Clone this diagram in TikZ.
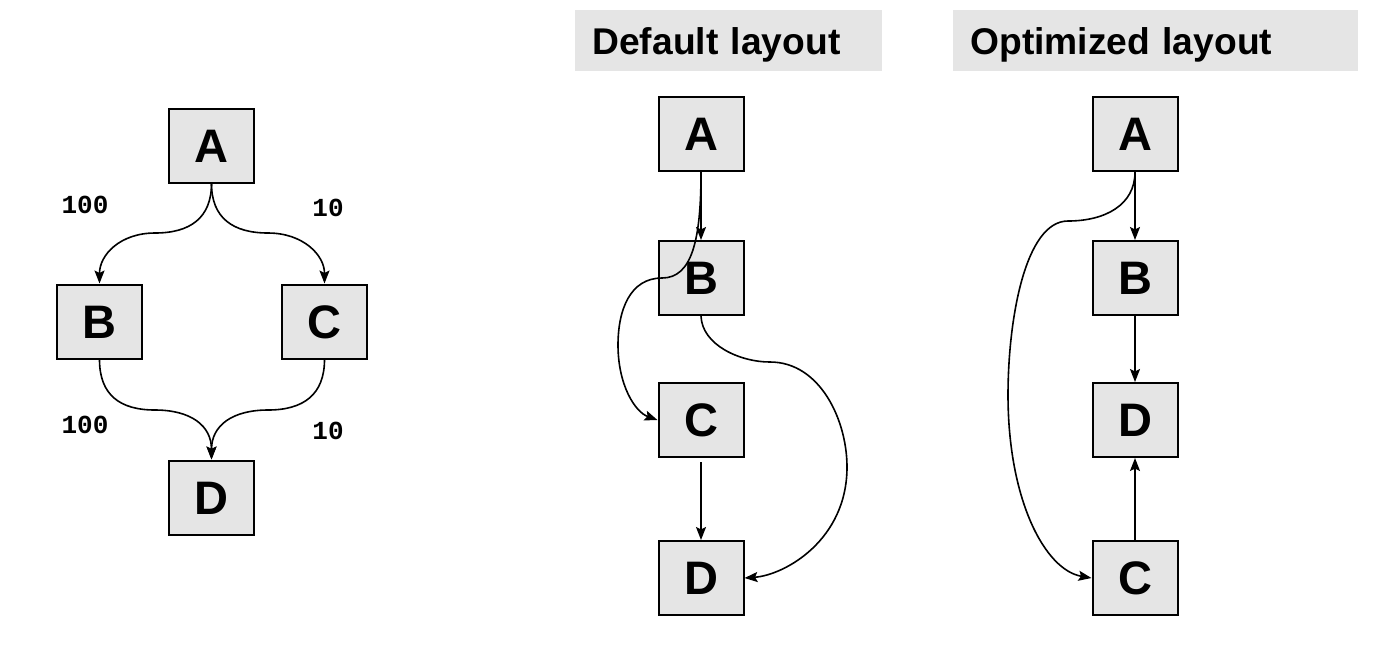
\documentclass[tikz,border=0pt]{standalone}
\usepackage{fontspec}
\setmainfont{Liberation Sans}
\newfontfamily\wtfont{Liberation Mono}
\usetikzlibrary{arrows.meta}

\begin{document}
\begin{tikzpicture}[x=0.5pt, y=-0.5pt,
        blk/.style={draw, line width=1pt, fill=black!10, minimum width=42.5pt, minimum height=37pt,
            inner sep=0pt, text height=16.8pt, text depth=0pt, font=\fontsize{23.5}{23.5}\selectfont\bfseries},
        ttl/.style={fill=black!10, anchor=north west, minimum height=30.5pt, inner xsep=8.5pt, inner ysep=0pt,
            align=left, text height=13.3pt, text depth=0pt, font=\fontsize{18.6}{18.6}\selectfont\bfseries},
        wt/.style={font=\wtfont\fontsize{13}{13}\selectfont\bfseries},
        arc/.style={line width=0.8pt, -{Stealth[length=6.5pt, width=5pt, inset=1.2pt]}}]
        \useasboundingbox (0, 0) rectangle (1380, 650);

        % weighted graph
        \node[blk] (a1) at (211.5, 145.5) {A};
        \node[blk] (b1) at (99.5, 321.5) {B};
        \node[blk] (c1) at (324.5, 321.5) {C};
        \node[blk] (d1) at (211.5, 497.5) {D};

        \draw[arc] (a1.south) .. controls (211.5, 218) and (190, 233) .. (155, 233)
            .. controls (120, 233) and (99.5, 255) .. (b1.north);
        \draw[arc] (a1.south) .. controls (211.5, 218) and (233, 233) .. (268, 233)
            .. controls (303, 233) and (324.5, 255) .. (c1.north);
        \draw[arc] (b1.south) .. controls (99.5, 395) and (120, 410) .. (155, 410)
            .. controls (190, 410) and (211.5, 425) .. (d1.north);
        \draw[arc] (c1.south) .. controls (324.5, 395) and (303, 410) .. (268, 410)
            .. controls (233, 410) and (211.5, 425) .. (d1.north);

        \node[wt] (w1) at (85, 205) {100};
        \node[wt] (w2) at (328, 208) {10};
        \node[wt] (w3) at (85, 425) {100};
        \node[wt] (w4) at (328, 431) {10};

        % default layout
        \node[ttl, text width=136.5pt] (tdef) at (575, 10) {Default layout};
        \node[blk] (a2) at (701, 134) {A};
        \node[blk] (b2) at (701, 278) {B};
        \node[blk] (c2) at (701, 420) {C};
        \node[blk] (d2) at (701, 578) {D};

        \draw[arc] (a2.south) -- (b2.north);
        \draw[arc] (a2.south) .. controls (701, 240) and (692, 278) .. (662, 278)
            .. controls (630, 278) and (618, 310) .. (618, 345)
            .. controls (618, 385) and (635, 412) .. (c2.west);
        \draw[arc] (b2.south) .. controls (702, 345) and (740, 362) .. (770, 362)
            .. controls (820, 362) and (847, 420) .. (847, 467)
            .. controls (847, 540) and (785, 575) .. (d2.east);
        \draw[arc, shorten <=2pt] (c2.south) -- (d2.north);

        % optimized layout
        \node[ttl, text width=185.5pt] (topt) at (953, 10) {Optimized layout};
        \node[blk] (a3) at (1135, 134) {A};
        \node[blk] (b3) at (1135, 278) {B};
        \node[blk] (d3) at (1135, 420) {D};
        \node[blk] (c3) at (1135, 578) {C};

        \draw[arc] (a3.south) -- (b3.north);
        \draw[arc] (b3.south) -- (d3.north);
        \draw[arc] (c3.north) -- (d3.south);
        \draw[arc] (a3.south) .. controls (1135, 205) and (1105, 221) .. (1068, 221)
            .. controls (1025, 221) and (1008, 320) .. (1008, 395)
            .. controls (1008, 500) and (1045, 570) .. (c3.west);
    \end{tikzpicture}
\end{document}
